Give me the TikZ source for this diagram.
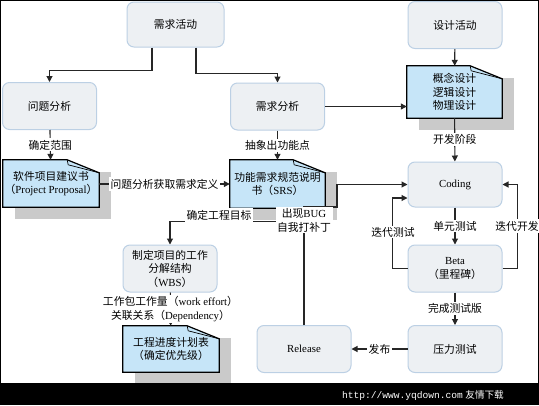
\documentclass[tikz,border=0pt]{standalone}
\usepackage{fontspec}
\setmainfont{Liberation Serif}
\newfontfamily\cjk{Noto Sans CJK SC}
\newfontfamily\urlfont{Liberation Mono}
\usepackage{tikz}
\usetikzlibrary{arrows.meta}
\usetikzlibrary{calc}
\usetikzlibrary{backgrounds}

\definecolor{boxfill}{HTML}{EDF0F3}
\definecolor{boxline}{HTML}{BCD0E4}
\definecolor{docfill}{HTML}{C6E5F8}
\definecolor{docshade}{HTML}{CACACA}
\definecolor{flowline}{HTML}{262626}

\tikzset{
  activity/.style={draw=boxline, fill=boxfill, line width=1pt, rounded corners=7pt,
    minimum width=94pt, minimum height=47pt, align=center, font=\fontsize{10.8}{13.5}\selectfont},
  document/.style={minimum width=95pt, minimum height=48pt, align=center, inner sep=0pt,
    font=\fontsize{10.8}{13.5}\selectfont},
  flow/.style={draw=flowline, line width=1.1pt, -{Triangle[length=6pt,width=6pt]}},
  note/.style={fill=white, inner sep=1.5pt, align=center, font=\fontsize{10.8}{14}\selectfont}
}

% folded paper with a shadow behind a named node
\newcommand{\paper}[1]{%
  \begin{scope}[on background layer]
    \fill[docshade] ([shift={(12,12)}]#1.north west) rectangle ([shift={(12,12)}]#1.south east);
    \filldraw[fill=docfill, draw=black, line width=1.2pt] (#1.north west) -- ([xshift=-32pt]#1.north east)
      -- ([yshift=-13pt]#1.north east) -- (#1.south east) -- (#1.south west) -- cycle;
  \end{scope}
  \draw[line width=0.7pt] ([xshift=-32pt]#1.north east) -- ([xshift=-31pt,yshift=-5pt]#1.north east)
    -- ([yshift=-13pt]#1.north east);
}

\begin{document}
\begin{tikzpicture}[x=1pt, y=-1pt]
\useasboundingbox (0,0) rectangle (539,405);
\draw[line width=2pt] (0,0) rectangle (539,384);

% activities
\node[activity, minimum width=97pt, minimum height=45pt] (req) at (175.5,24.5) {\cjk 需求活动};
\node[activity] (design) at (455,25) {\cjk 设计活动};
\node[activity] (prob) at (49.5,106) {\cjk 问题分析};
\node[activity] (reqan) at (277.5,106.5) {\cjk 需求分析};
\node[activity, minimum height=45pt] (coding) at (455,184.5) {Coding};
\node[activity] (beta) at (455,268.5) {Beta\\{\cjk （里程碑）}};
\node[activity] (wbs) at (170,268.5) {{\cjk 制定项目的工作}\\{\cjk 分解结构}\\{\cjk （}WBS{\cjk ）}};
\node[activity] (stress) at (455,349) {\cjk 压力测试};
\node[activity] (release) at (304,349) {Release};

% documents
\node[document, minimum height=52pt] (concept) at (454.5,92) {{\cjk 概念设计}\\{\cjk 逻辑设计}\\{\cjk 物理设计}};
\node[document, minimum width=96pt, minimum height=47pt] (proposal) at (51,183.5) {{\cjk 软件项目建议书}\\{\cjk （}Project Proposal{\cjk ）}};
\node[document] (srs) at (277.5,184) {{\cjk 功能需求规范说明}\\{\cjk 书（}SRS{\cjk ）}};
\node[document, minimum width=96pt, minimum height=46pt] (sched) at (171,349) {{\cjk 工程进度计划表}\\{\cjk （确定优先级）}};
\paper{concept}
\paper{proposal}
\paper{srs}
\paper{sched}

% connectors
\draw[flow] ([xshift=-23.5pt]req.south) -- ++(0,23) -| (prob.north);
\draw[flow] ([xshift=20.5pt]req.south) -- ++(0,26) -| (reqan.north);
\draw[flow] (design) -- (concept);
\draw[flow] (reqan.east) -- (reqan.east -| concept.west);
\draw[flow] (concept) -- node[note] {\cjk 开发阶段} (coding);
\draw[flow] (prob) -- node[note] {\cjk 确定范围} (proposal);
\draw[flow] (reqan) -- node[note] {\cjk 抽象出功能点} (srs);
\draw[flow] (proposal.east |- srs.west) -- node[note] {\cjk 问题分析获取需求定义} (srs.west);
\draw[flow] (srs.south) -- ++(0,13) -| (wbs.north);
\node[note] (goal) at (219,215) {\cjk 确定工程目标};
\draw[flow] (wbs) -- node[note] {{\cjk 工作包工作量（}work effort{\cjk ）}\\{\cjk 关联关系（}Dependency{\cjk ）}} (sched);
\draw[flow] (coding) -- node[note] {\cjk 单元测试} (beta);
\draw[flow] (beta.west) -- ++(-15,0) |- ([yshift=-13.5pt]coding.west);
\node[note] (itertest) at (393,232) {\cjk 迭代测试};
\draw[flow] (beta.east) -- ++(15,0) |- (coding.east);
\node[note] (iterdev) at (517,226) {\cjk 迭代开发};
\draw[flow] (beta) -- node[note] {\cjk 完成测试版} (stress);
\draw[flow] (stress) -- node[note] {\cjk 发布} (release);
\draw[flow] (release.north) |- (337,207) |- (coding.west);
\node[note] (bug) at (304,220) {{\cjk 出现}BUG\\{\cjk 自我打补丁}};

% watermark bar
\fill[black] (0,384) rectangle (539,405);
\node[text=white, anchor=east, inner sep=0pt, font=\fontsize{9.6}{11}\selectfont] (site) at (504,395)
  {{\urlfont http://www.yqdown.com} {\cjk 友情下载}};
\end{tikzpicture}
\end{document}
